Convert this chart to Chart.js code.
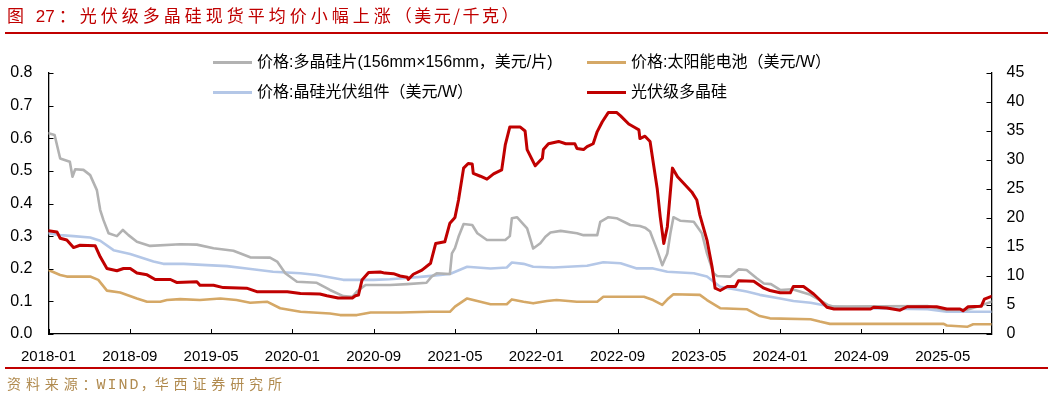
<!DOCTYPE html>
<html>
<head>
<meta charset="utf-8">
<script src="https://cdn.jsdelivr.net/npm/chart.js@4/dist/chart.umd.min.js"></script>
<style>
  html, body { margin: 0; padding: 0; background: #fff; }
  #wrap { position: relative; width: 1053px; height: 397px; overflow: hidden; }
  #c { position: absolute; left: 0; top: 0; }
  .title {
    position: absolute; left: 7px; top: 3px; white-space: nowrap;
    font-family: "Noto Sans CJK SC", sans-serif; font-size: 17px; line-height: 24px;
    color: #C00000; letter-spacing: 4px;
  }
  .title .num { letter-spacing: 0; font-family: "Liberation Sans", sans-serif; margin-right: 4px; }
  .title .tail { letter-spacing: 2.5px; }
  .rule { position: absolute; left: 5px; width: 1043px; background: #C00000; }
  .source {
    position: absolute; left: 7px; top: 372px; white-space: nowrap;
    font-family: "Noto Sans CJK SC", sans-serif; font-size: 14px; line-height: 22px;
    color: #B08A4E; letter-spacing: 4.9px;
  }
  .source .mono { font-family: "Liberation Mono", monospace; font-size: 15px; letter-spacing: 2px; }
  .source .half { letter-spacing: -4px; margin-right: 4px; }
  .lg { position: absolute; white-space: nowrap; font-family: "Liberation Sans", "Noto Sans CJK SC", sans-serif; font-size: 16px; color: #000; line-height: 20px; }
  .lg i { position: absolute; left: 0; top: 9px; width: 39px; height: 3px; }
  .lg span { position: absolute; left: 44px; top: 0; }
</style>
</head>
<body>
<div id="wrap">
  <canvas id="c" width="1053" height="397"></canvas>
  <div class="title">图 <span class="num">27</span>：光伏级多晶硅现货平均价小幅上涨<span class="tail">（美元/千克）</span></div>
  <div class="rule" style="top:32px;height:2px"></div>
  <div class="rule" style="top:367px;height:1.5px"></div>
  <div class="source">资料来源<span class="half">：</span><span class="mono">WIND</span><span class="half">，</span>华西证券研究所</div>
  <div id="legend"></div>
</div>
<script>
// 月份偏移量：从 2018-01 起算的月数
const xTickLabels = ['2018-01', '2018-09', '2019-05', '2020-01', '2020-09', '2021-05',
  '2022-01', '2022-09', '2023-05', '2024-01', '2024-09', '2025-05'];
const xEnd = 92.8;

// 价格:多晶硅片(156mm×156mm，美元/片) — 左轴
const waferMonths = [0, 0.6, 1.15, 2.1, 2.36, 2.63, 3.44, 4.1, 4.76, 5.09, 5.41, 5.91, 6.73, 7.32, 7.87, 8.7, 10, 12.96, 14.6, 16.24, 18.2, 19.85, 21.8, 22.5, 23.3, 24.45, 26.4, 27.7, 29.0, 29.9, 30.35, 31.2, 33.6, 35.3, 37.2, 37.7, 38.2, 39.5, 39.7, 40.0, 40.35, 40.85, 41.7, 42.2, 43.15, 44.95, 45.4, 45.6, 46.1, 47.1, 47.7, 48.4, 48.9, 49.4, 50.4, 52.0, 52.65, 54.0, 54.3, 55.1, 55.9, 57.25, 58.2, 58.7, 59.2, 59.9, 60.4, 60.9, 61.2, 61.5, 62.2, 63.5, 64.3, 64.8, 65.45, 65.8, 67.1, 67.9, 68.7, 69.7, 70.4, 71.1, 72.0, 73.2, 75.0, 76.7, 77.2, 86.5, 88.1, 90.4, 92.0, 92.8];
const waferPrice = [0.615, 0.61, 0.538, 0.528, 0.482, 0.505, 0.503, 0.487, 0.441, 0.38, 0.349, 0.309, 0.300, 0.319, 0.303, 0.283, 0.270, 0.275, 0.274, 0.263, 0.255, 0.235, 0.234, 0.222, 0.186, 0.160, 0.157, 0.135, 0.116, 0.114, 0.130, 0.150, 0.150, 0.153, 0.157, 0.176, 0.186, 0.184, 0.247, 0.263, 0.298, 0.337, 0.334, 0.309, 0.288, 0.288, 0.300, 0.355, 0.358, 0.324, 0.262, 0.278, 0.298, 0.311, 0.316, 0.309, 0.303, 0.303, 0.344, 0.358, 0.355, 0.334, 0.331, 0.326, 0.314, 0.257, 0.211, 0.247, 0.309, 0.358, 0.347, 0.344, 0.309, 0.247, 0.186, 0.178, 0.176, 0.198, 0.196, 0.171, 0.155, 0.153, 0.135, 0.137, 0.120, 0.089, 0.084, 0.086, 0.074, 0.074, 0.090, 0.099];

// 价格:太阳能电池（美元/W）— 左轴
const cellMonths = [0, 1.15, 1.8, 4.1, 4.9, 5.75, 7.05, 8.7, 9.7, 11.0, 11.65, 12.96, 14.9, 16.9, 18.5, 19.85, 21.5, 22.8, 24.8, 27.7, 28.7, 30.35, 31.7, 34.6, 37.6, 39.5, 40.0, 41.2, 42.5, 43.5, 45.1, 45.6, 46.75, 47.7, 49.05, 50.0, 52.0, 54.0, 54.6, 58.6, 59.5, 60.4, 61.0, 61.5, 64.1, 64.8, 66.1, 68.7, 70.0, 71.0, 75.0, 75.9, 76.9, 88.1, 88.4, 90.4, 91.0, 92.8];
const cellPrice = [0.196, 0.181, 0.176, 0.176, 0.166, 0.133, 0.127, 0.109, 0.099, 0.099, 0.104, 0.107, 0.104, 0.109, 0.104, 0.096, 0.099, 0.079, 0.068, 0.063, 0.058, 0.058, 0.066, 0.066, 0.068, 0.068, 0.084, 0.109, 0.099, 0.091, 0.091, 0.106, 0.099, 0.094, 0.101, 0.104, 0.099, 0.099, 0.114, 0.114, 0.104, 0.089, 0.109, 0.122, 0.120, 0.104, 0.079, 0.076, 0.055, 0.048, 0.045, 0.038, 0.031, 0.031, 0.026, 0.022, 0.030, 0.030];

// 价格:晶硅光伏组件（美元/W）— 左轴
const moduleMonths = [0, 1.15, 2.46, 4.1, 5.09, 6.4, 8.04, 9.03, 10.33, 11.3, 13.3, 15.6, 17.56, 19.5, 22.1, 24.8, 26.4, 29.0, 32.0, 33.6, 36.9, 39.5, 41.2, 43.5, 45.1, 45.6, 46.75, 47.7, 49.7, 53.0, 54.6, 56.3, 57.9, 59.5, 60.9, 63.5, 64.8, 66.1, 68.7, 70.0, 72.0, 73.3, 75.0, 76.7, 79.9, 86.5, 88.4, 92.8];
const modulePrice = [0.309, 0.303, 0.300, 0.296, 0.286, 0.257, 0.245, 0.235, 0.222, 0.215, 0.215, 0.211, 0.208, 0.201, 0.191, 0.186, 0.181, 0.166, 0.166, 0.168, 0.176, 0.184, 0.206, 0.201, 0.204, 0.219, 0.215, 0.206, 0.204, 0.209, 0.220, 0.217, 0.201, 0.201, 0.191, 0.186, 0.176, 0.145, 0.130, 0.120, 0.109, 0.101, 0.096, 0.086, 0.079, 0.076, 0.068, 0.068];

// 光伏级多晶硅（美元/千克）— 右轴
const polyMonths = [0, 0.83, 1.15, 1.8, 2.46, 3.1, 4.6, 5.09, 5.75, 6.73, 7.38, 8.04, 8.7, 9.7, 10.5, 12.0, 12.6, 14.6, 14.9, 16.24, 17.2, 19.5, 20.5, 23.5, 24.8, 26.7, 27.4, 28.5, 29.9, 30.2, 30.5, 30.85, 31.5, 32.65, 33.1, 33.95, 34.6, 35.3, 35.4, 35.9, 36.75, 37.6, 38.1, 39.0, 39.5, 40.0, 40.35, 40.85, 41.3, 41.7, 41.8, 42.5, 43.15, 43.8, 44.6, 44.95, 45.4, 46.4, 46.9, 47.1, 47.9, 48.6, 48.7, 49.2, 50.2, 50.9, 51.8, 52.0, 52.65, 53.0, 53.6, 54.0, 54.5, 55.1, 55.9, 56.3, 57.1, 57.7, 58.1, 58.2, 58.7, 59.2, 59.5, 59.9, 60.2, 60.55, 60.9, 61.4, 61.9, 62.5, 63.3, 63.8, 64.1, 64.8, 65.3, 65.6, 66.1, 66.8, 67.6, 67.9, 69.4, 70.4, 71.0, 72.0, 73.0, 73.3, 74.3, 75.3, 75.9, 76.6, 77.3, 80.9, 81.2, 82.5, 83.8, 84.5, 87.4, 88.4, 89.7, 90.0, 90.5, 91.8, 92.1, 92.8];
const polyPrice = [17.8, 17.6, 16.5, 16.2, 14.9, 15.3, 15.2, 13.3, 11.3, 10.9, 11.3, 11.3, 10.5, 10.2, 9.4, 9.4, 8.9, 9.0, 8.4, 8.4, 8.0, 7.9, 7.3, 7.3, 7.0, 6.9, 6.6, 6.2, 6.2, 6.6, 6.7, 9.3, 10.6, 10.7, 10.5, 10.4, 10.0, 9.8, 9.4, 10.3, 11.0, 12.2, 15.6, 15.9, 19.1, 20.1, 23.1, 28.6, 29.4, 29.3, 27.7, 27.2, 26.7, 27.6, 28.3, 32.6, 35.7, 35.7, 35.0, 31.8, 29.0, 30.3, 31.8, 32.8, 33.2, 32.8, 32.8, 32.0, 31.8, 32.3, 32.8, 34.9, 36.6, 38.2, 38.2, 37.6, 36.2, 35.6, 35.2, 33.7, 34.1, 33.2, 29.7, 25.1, 20.2, 15.6, 18.5, 28.6, 27.1, 26.0, 24.5, 23.1, 20.5, 16.2, 11.6, 7.9, 7.5, 8.2, 8.2, 9.2, 9.1, 7.9, 7.5, 7.1, 7.1, 8.2, 8.2, 6.9, 5.9, 4.6, 4.3, 4.3, 4.6, 4.5, 4.1, 4.7, 4.7, 4.3, 4.3, 4.0, 4.7, 4.8, 6.0, 6.5];

const seriesNames = ['价格:多晶硅片(156mm×156mm，美元/片)', '价格:太阳能电池（美元/W）', '价格:晶硅光伏组件（美元/W）', '光伏级多晶硅'];
const seriesColors = ['#B2B2B2', '#D5A866', '#B4C7E7', '#C00000'];

function toPoints(months, values) {
  return months.map((m, i) => ({ x: m, y: values[i] }));
}

function labelToMonth(label) {
  const [y, m] = label.split('-').map(Number);
  return (y - 2018) * 12 + (m - 1);
}

// 图例（两行两列）
const legendPos = [[213, 52], [587, 52], [213, 82], [587, 82]];
document.getElementById('legend').innerHTML = seriesNames.map((name, i) => `
  <div class="lg" style="left:${legendPos[i][0]}px;top:${legendPos[i][1]}px">
    <i style="background:${seriesColors[i]}"></i><span>${name}</span>
  </div>`).join('');

// 向内的刻度线
const inwardTicks = {
  id: 'inwardTicks',
  afterDraw(chart) {
    const { ctx, chartArea: a, scales } = chart;
    const len = 5;
    ctx.save();
    ctx.strokeStyle = '#000';
    ctx.lineWidth = 1;
    ctx.beginPath();
    scales.y.ticks.forEach(t => {
      const y = Math.round(scales.y.getPixelForValue(t.value)) + 0.5;
      ctx.moveTo(a.left, y); ctx.lineTo(a.left + len, y);
    });
    scales.y2.ticks.forEach(t => {
      const y = Math.round(scales.y2.getPixelForValue(t.value)) + 0.5;
      ctx.moveTo(a.right, y); ctx.lineTo(a.right - len, y);
    });
    scales.x.ticks.forEach(t => {
      const x = Math.round(scales.x.getPixelForValue(t.value)) + 0.5;
      ctx.moveTo(x, a.bottom); ctx.lineTo(x, a.bottom - len);
    });
    ctx.stroke();
    ctx.restore();
  }
};

const xFont = { family: '"Liberation Sans", Arial, sans-serif', size: 15 };
const yFont = { family: '"Liberation Sans", Arial, sans-serif', size: 16 };
const axisBorder = { display: true, color: '#000', width: 1.3 };
const noGrid = { display: false, drawTicks: false };

new Chart(document.getElementById('c'), {
  type: 'line',
  data: {
    datasets: [
      { label: seriesNames[3], data: toPoints(polyMonths, polyPrice), yAxisID: 'y2', borderColor: seriesColors[3], borderWidth: 3 },
      { label: seriesNames[0], data: toPoints(waferMonths, waferPrice), yAxisID: 'y', borderColor: seriesColors[0], borderWidth: 2.6 },
      { label: seriesNames[2], data: toPoints(moduleMonths, modulePrice), yAxisID: 'y', borderColor: seriesColors[2], borderWidth: 2.6 },
      { label: seriesNames[1], data: toPoints(cellMonths, cellPrice), yAxisID: 'y', borderColor: seriesColors[1], borderWidth: 2.6 }
    ]
  },
  options: {
    responsive: false,
    animation: false,
    devicePixelRatio: 1,
    layout: { padding: { top: 73, left: 0, right: 0, bottom: 0 } },
    elements: { point: { radius: 0 }, line: { tension: 0, borderJoinStyle: 'round', borderCapStyle: 'round' } },
    plugins: { legend: { display: false }, tooltip: { enabled: false } },
    scales: {
      x: {
        type: 'linear', min: 0, max: xEnd,
        grid: noGrid, border: axisBorder,
        afterBuildTicks: s => { s.ticks = xTickLabels.map(l => ({ value: labelToMonth(l) })); },
        afterFit: s => { s.height = 63; },
        ticks: { color: '#000', font: xFont, padding: 14, maxRotation: 0, autoSkip: false,
          callback: (v, i) => xTickLabels[i] }
      },
      y: {
        position: 'left', min: 0, max: 0.8,
        grid: noGrid, border: axisBorder,
        afterFit: s => { s.width = 48.5; },
        ticks: { stepSize: 0.1, color: '#000', font: yFont, padding: 16, callback: v => v.toFixed(1) }
      },
      y2: {
        position: 'right', min: 0, max: 45,
        grid: noGrid, border: axisBorder,
        afterFit: s => { s.width = 61.5; },
        ticks: { stepSize: 5, color: '#000', font: yFont, padding: 15 }
      }
    }
  },
  plugins: [inwardTicks]
});
</script>
</body>
</html>
